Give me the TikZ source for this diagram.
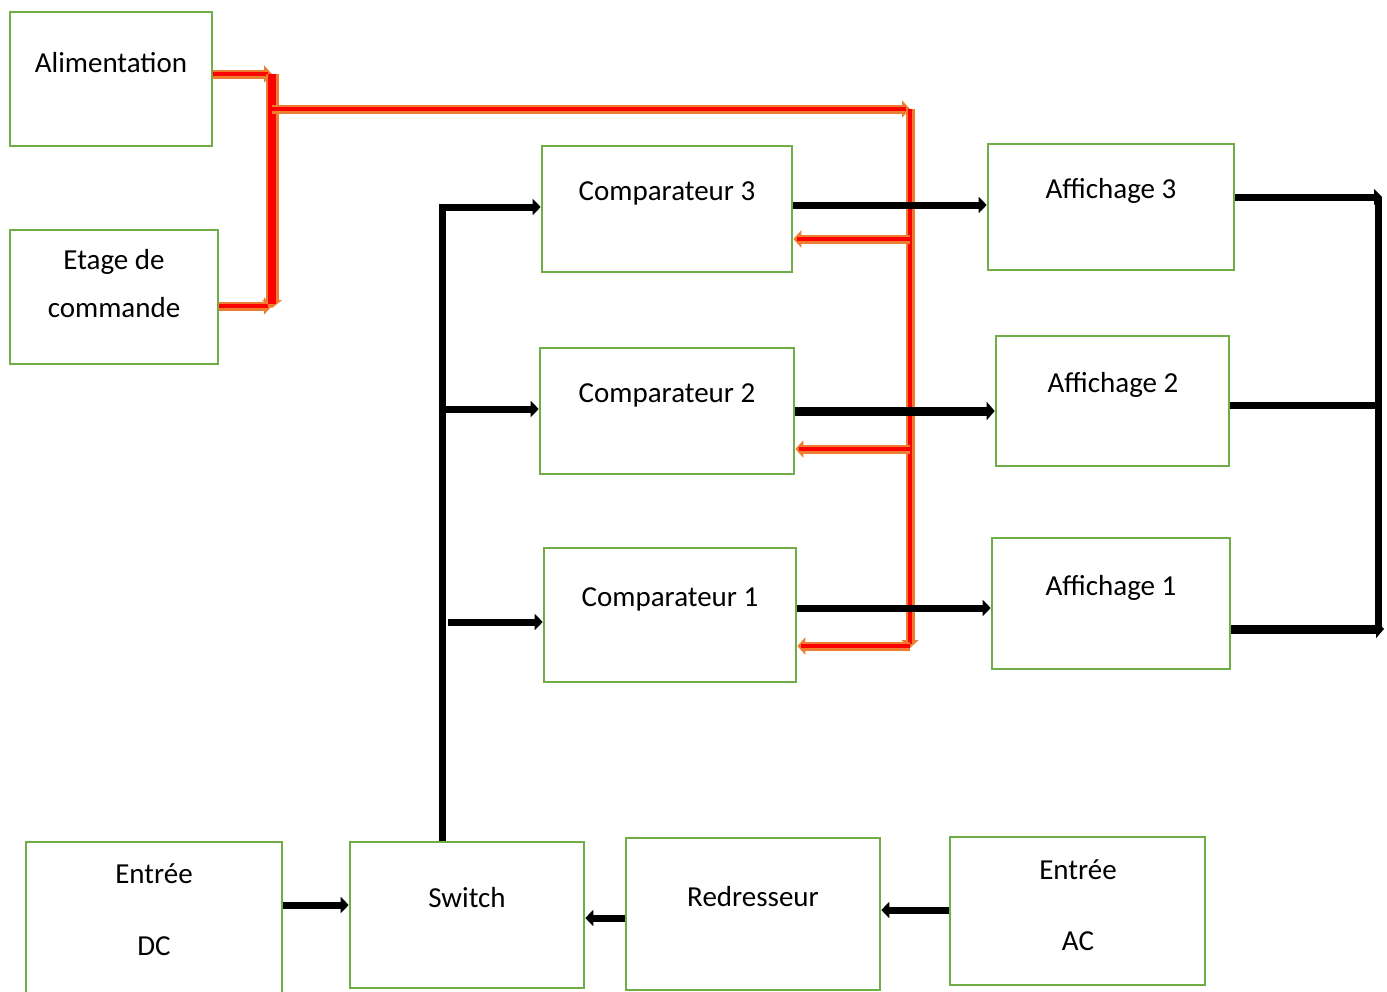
\documentclass[tikz,border=0pt]{standalone}
\usepackage{fontspec}
\setmainfont{Carlito}
\usetikzlibrary{arrows.meta,fit}
\definecolor{boxgreen}{RGB}{112,173,71}
\definecolor{feedorange}{RGB}{237,125,49}
\definecolor{feedred}{RGB}{255,0,0}

\begin{document}
\begin{tikzpicture}[x=0.5pt,y=-0.5pt,
  box/.style={draw=boxgreen, line width=1.3pt, inner sep=0pt},
  lbl/.style={font=\fontsize{14.5}{17}\selectfont},
  sig/.style={line width=3.5pt, -{Triangle[length=4pt,width=8pt]}},
  bigsig/.style={line width=4.5pt, -{Triangle[length=4pt,width=9pt]}},
  sigline/.style={line width=3.5pt},
  feed/.style={draw=feedorange, line width=4.5pt, -{Triangle[length=4pt,width=8.5pt]},
    postaction={draw=feedred, line width=1.7pt, -, shorten >=2pt}},
  bigfeed/.style={draw=feedorange, line width=6.5pt, -{Triangle[length=4pt,width=10pt]},
    postaction={draw=feedred, line width=4pt, -, shorten >=2pt}}
]

% Page
\useasboundingbox (0,0) rectangle (1387,991);

% Boxes
\node[box, fit={(10,12) (212,146)}] (alim) {};
\node[box, fit={(10,230) (218,364)}] (etage) {};
\node[box, fit={(542,146) (792,272)}] (com3) {};
\node[box, fit={(540,348) (794,474)}] (com2) {};
\node[box, fit={(544,548) (796,682)}] (com1) {};
\node[box, fit={(988,144) (1234,270)}] (aff3) {};
\node[box, fit={(996,336) (1229,466)}] (aff2) {};
\node[box, fit={(992,538) (1230,669)}] (aff1) {};
\node[box, fit={(26,842) (282,998)}] (dc) {};
\node[box, fit={(350,842) (584,988)}] (sw) {};
\node[box, fit={(626,838) (880,990)}] (red) {};
\node[box, fit={(950,837) (1205,985)}] (ac) {};

% Labels
\node[lbl] (alim-t) at (111,63) {Alimentation};
\node[lbl] (etage-t1) at (114,262) {Etage de};
\node[lbl] (etage-t2) at (114,308) {commande};
\node[lbl] (com3-t) at (667,193) {Comparateur 3};
\node[lbl] (com2-t) at (667,395) {Comparateur 2};
\node[lbl] (com1-t) at (670,599) {Comparateur 1};
\node[lbl] (aff3-t) at (1111,191) {Affichage 3};
\node[lbl] (aff2-t) at (1113,385) {Affichage 2};
\node[lbl] (aff1-t) at (1111,588) {Affichage 1};
\node[lbl] (dc-t1) at (154,874) {Entrée};
\node[lbl] (dc-t2) at (154,946) {DC};
\node[lbl] (sw-t) at (467,898) {Switch};
\node[lbl] (red-t) at (753,897) {Redresseur};
\node[lbl] (ac-t1) at (1078,870) {Entrée};
\node[lbl] (ac-t2) at (1078,941) {AC};

% Power bus
\coordinate (bus1) at (272,109);
\coordinate (bus2) at (910,109);
\draw[feed] (alim.east |- 0,74) -- (272,74);
\draw[feed] (etage.east |- 0,306) -- (272,306);
\draw[bigfeed] (272,74) -- (272,308);
\draw[feed] (bus1) -- (bus2);
\draw[feed] (bus2) -- (910,648);
\draw[feed] (910,239) -- (com3.east |- 0,239);
\draw[feed] (910,449) -- (com2.east |- 0,449);
\draw[feed] (910,646) -- (com1.east |- 0,646);

% Switch to comparators
\draw[sig] (442,0 |- sw.north) -- (442,207) -- (com3.west |- 0,207);
\draw[sig] (442,409) -- (com2.west |- 0,409);
\draw[sig] (448,622) -- (com1.west |- 0,622);

% Comparators to displays
\draw[sig] (com3.east |- 0,205) -- (aff3.west |- 0,205);
\draw[bigsig] (com2.east |- 0,411) -- (aff2.west |- 0,411);
\draw[sig] (com1.east |- 0,608) -- (aff1.west |- 0,608);

% Display outputs
\draw[sig] (aff3.east |- 0,197) -- (1382,197);
\draw[sigline] (aff2.east |- 0,405) -- (1378,405);
\draw[bigsig] (aff1.east |- 0,629) -- (1384,629);
\draw[sigline] (1378,197) -- (1378,629);

% Inputs
\draw[sig] (dc.east |- 0,905) -- (sw.west |- 0,905);
\draw[sig] (red.west |- 0,918) -- (sw.east |- 0,918);
\draw[sig] (ac.west |- 0,910) -- (red.east |- 0,910);

\end{tikzpicture}
\end{document}
